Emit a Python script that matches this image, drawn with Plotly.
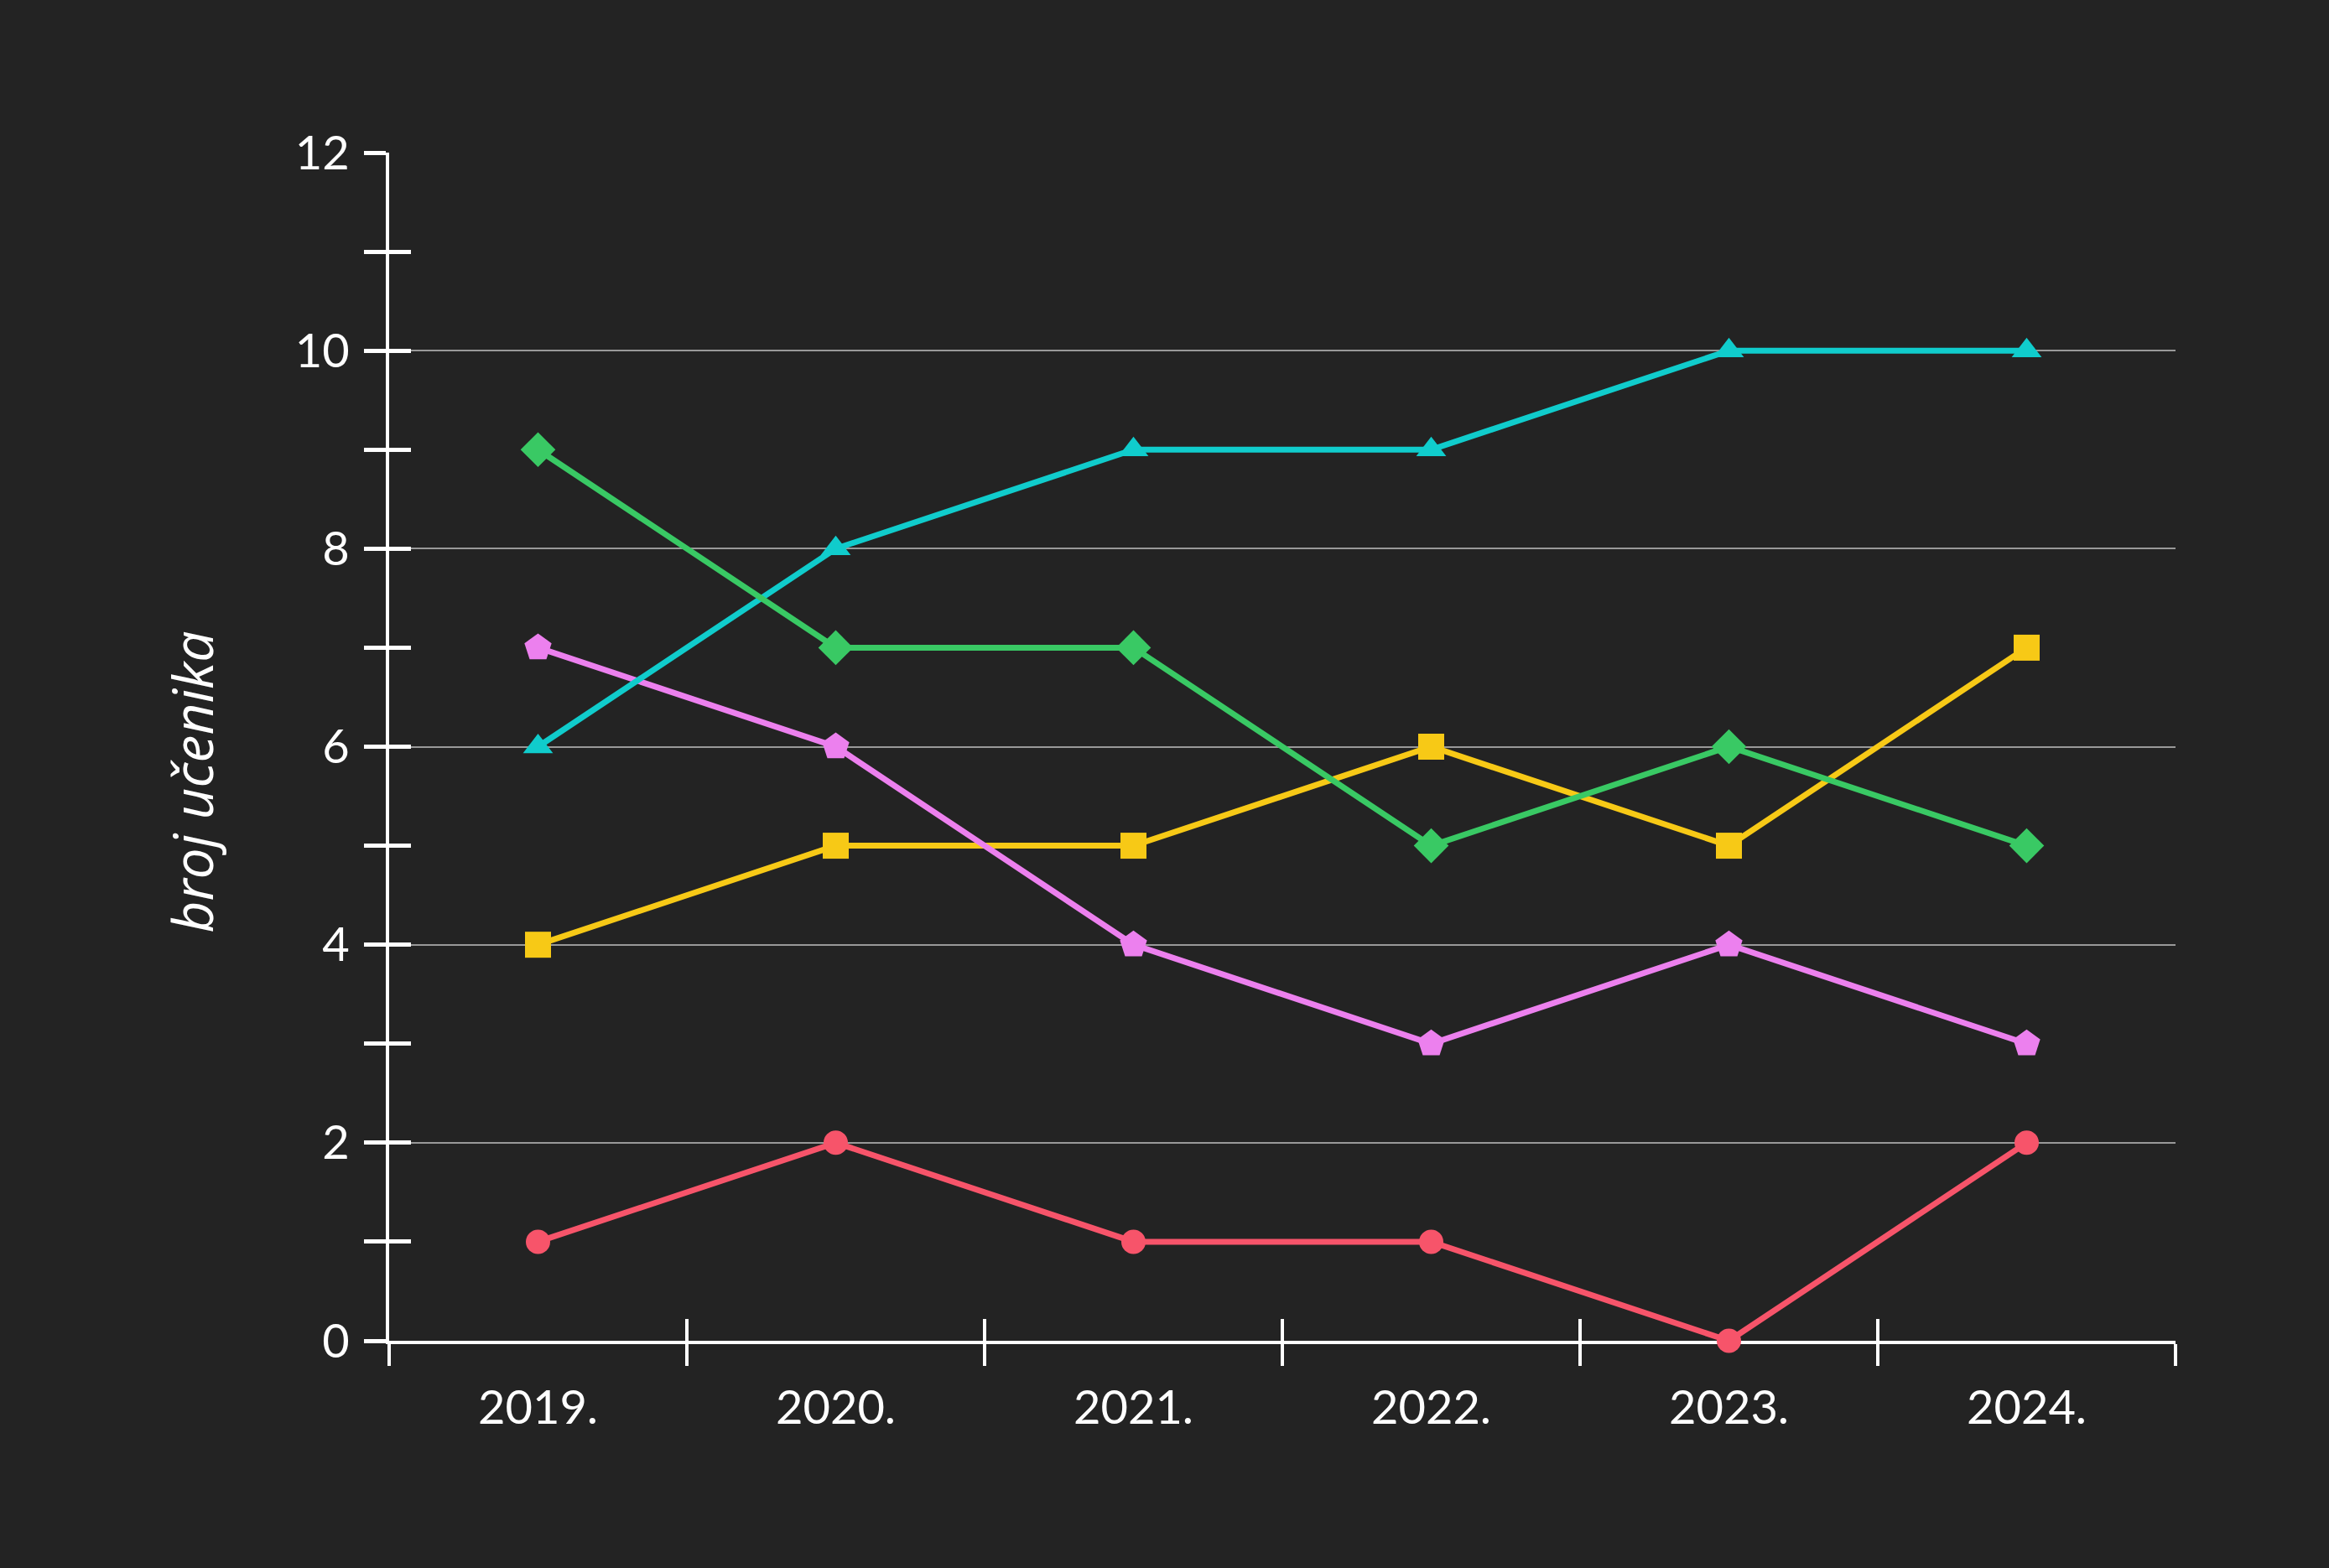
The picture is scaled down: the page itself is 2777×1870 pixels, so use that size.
import plotly.graph_objects as go

years = ["2019.", "2020.", "2021.", "2022.", "2023.", "2024."]
red_vals = [1, 2, 1, 1, 0, 2]
yellow_vals = [4, 5, 5, 6, 5, 7]
pink_vals = [7, 6, 4, 3, 4, 3]
cyan_vals = [6, 8, 9, 9, 10, 10]
green_vals = [9, 7, 7, 5, 6, 5]
y_title = "broj učenika"

y_ticks = list(range(0, 13))
y_ticktext = [str(v) if v % 2 == 0 else "" for v in y_ticks]
grid_ticks = list(range(0, 13, 2))

series = [
    (red_vals, "#F7546A", "circle", 29),
    (yellow_vals, "#F7C916", "square", 31),
    (pink_vals, "#EC80EE", "pentagon", 34),
    (cyan_vals, "#10CCCC", "triangle-up", 31),
    (green_vals, "#39C964", "diamond", 32),
]

BG = "#232323"
FONT = "Lato"

fig = go.Figure()
for vals, color, sym, sz in series:
    fig.add_trace(go.Scatter(
        x=years, y=vals, mode="lines+markers",
        line=dict(color=color, width=7),
        marker=dict(symbol=sym, size=sz, color=color, line=dict(width=0)),
        cliponaxis=False, showlegend=False,
    ))

# invisible traces so the overlay axes (inside ticks and grid) are drawn
fig.add_trace(go.Scatter(x=years, y=red_vals, xaxis="x2", yaxis="y2",
                         mode="lines", line=dict(width=0), opacity=0,
                         showlegend=False, hoverinfo="skip"))
fig.add_trace(go.Scatter(x=years, y=red_vals, xaxis="x3", yaxis="y3",
                         mode="lines", line=dict(width=0), opacity=0,
                         showlegend=False, hoverinfo="skip"))

fig.update_layout(
    width=2777, height=1870,
    paper_bgcolor=BG, plot_bgcolor="rgba(0,0,0,0)",
    margin=dict(l=464, r=183, t=182, b=271),
    font=dict(family=FONT, color="white", size=56),
    xaxis=dict(
        type="category", categoryarray=years, range=[-0.5, 5.5],
        tickson="boundaries", ticks="outside", ticklen=26, tickwidth=4,
        tickcolor="white", showline=True, linecolor="white", linewidth=4,
        showgrid=False, zeroline=False, ticklabelstandoff=28,
        tickfont=dict(family=FONT, size=56, color="white"),
        layer="below traces",
    ),
    yaxis=dict(
        range=[0, 12], tickvals=y_ticks, ticktext=y_ticktext,
        ticks="outside", ticklen=26, tickwidth=5, tickcolor="white",
        showline=True, linecolor="white", linewidth=4,
        showgrid=False, zeroline=False, ticklabelstandoff=6,
        tickfont=dict(family=FONT, size=56, color="white"),
        layer="below traces",
    ),
    xaxis2=dict(
        type="category", categoryarray=years, range=[-0.5, 5.5],
        overlaying="x", tickson="boundaries", ticks="inside", ticklen=26,
        tickwidth=4, tickcolor="white", showticklabels=False,
        showline=False, showgrid=False, zeroline=False, layer="below traces",
    ),
    yaxis2=dict(
        range=[0, 12], overlaying="y", tickvals=y_ticks, ticks="inside",
        ticklen=26, tickwidth=5, tickcolor="white", showticklabels=False,
        showline=False, showgrid=False, zeroline=False, layer="below traces",
    ),
    xaxis3=dict(
        type="category", categoryarray=years, range=[-0.5, 5.5],
        overlaying="x", showticklabels=False, ticks="", showline=False,
        showgrid=False, zeroline=False,
    ),
    yaxis3=dict(
        range=[0, 12], overlaying="y", tickvals=grid_ticks, ticks="",
        showticklabels=False, showline=False, showgrid=True,
        gridcolor="#999999", gridwidth=2, zeroline=False,
    ),
    annotations=[dict(
        text="<i>" + y_title + "</i>", xref="paper", yref="paper",
        x=-0.111, y=0.47, xanchor="center", yanchor="middle",
        textangle=-90, showarrow=False,
        font=dict(family="Open Sans", size=66, color="white"),
    )],
)

fig.write_html(
    "out.html",
    config={"displayModeBar": False},
    post_script="document.body.style.margin='0';document.body.style.background='#232323';",
)
